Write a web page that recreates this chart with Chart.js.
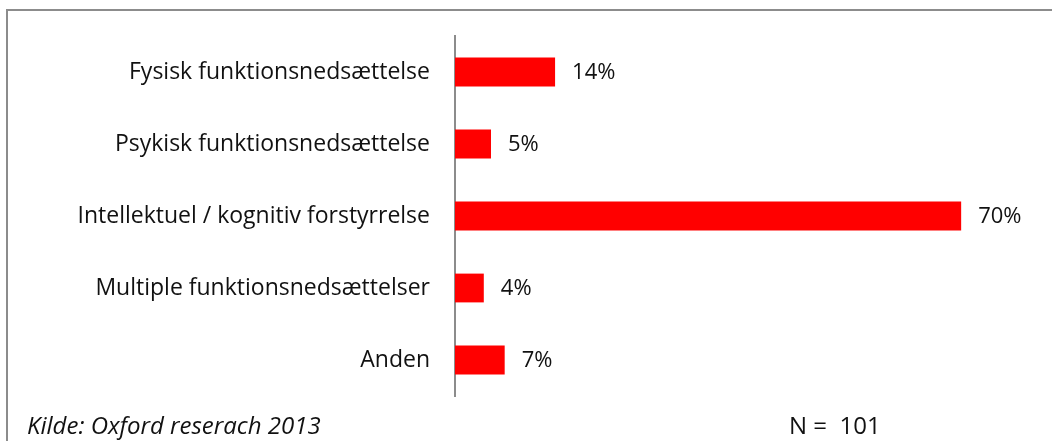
<!DOCTYPE html>
<html>
<head>
<meta charset="utf-8">
<script src="https://cdn.jsdelivr.net/npm/chart.js"></script>
<style>
	body { margin: 0; background: white; font-family: "Open Sans", sans-serif; }
	#wrap { position: relative; width: 1052px; height: 441px; overflow: hidden; }
	#frame {
		position: absolute; left: 6px; top: 9px; width: 1100px; height: 500px;
		border: 2px solid #8c8c8c; box-sizing: border-box;
	}
	#chartBox { position: absolute; left: 0; top: 0; width: 1052px; height: 441px; }
	.foot { position: absolute; font-size: 24px; color: #111; top: 410px; line-height: 30px; }
	#source { left: 27px; font-style: italic; }
	#count { left: 789px; white-space: pre; }
</style>
</head>
<body>
<div id="wrap">
	<div id="frame"></div>
	<div id="chartBox"><canvas id="chart"></canvas></div>
	<div class="foot" id="source">Kilde: Oxford reserach 2013</div>
	<div class="foot" id="count">N =  101</div>
</div>
<script>
const categories = [
	"Fysisk funktionsnedsættelse",
	"Psykisk funktionsnedsættelse",
	"Intellektuel / kognitiv forstyrrelse",
	"Multiple funktionsnedsættelser",
	"Anden"
];
const shares = [13.9, 5.0, 70.3, 4.0, 6.9];

// percent labels right of each bar
const valueLabels = {
	id: 'valueLabels',
	afterDatasetsDraw(chart) {
		const ctx = chart.ctx;
		const meta = chart.getDatasetMeta(0);
		ctx.save();
		ctx.font = '22px "Open Sans"';
		ctx.fillStyle = '#111';
		ctx.textAlign = 'left';
		ctx.textBaseline = 'middle';
		meta.data.forEach((bar, i) => {
			ctx.fillText(Math.round(shares[i]) + '%', bar.x + 17, bar.y + 1);
		});
		ctx.restore();
	}
};

new Chart(document.getElementById('chart'), {
	type: 'bar',
	data: {
		labels: categories,
		datasets: [{
			data: shares,
			backgroundColor: '#ff0000',
			barPercentage: 0.4,
			categoryPercentage: 1.0
		}]
	},
	options: {
		indexAxis: 'y',
		responsive: true,
		maintainAspectRatio: false,
		animation: false,
		layout: { padding: { left: 0, right: 21, top: 36, bottom: 45 } },
		plugins: { legend: { display: false }, tooltip: { enabled: false } },
		scales: {
			x: { display: false, min: 0, max: 80 },
			y: {
				afterFit(scale) { scale.width = 455; },
				grid: { display: false },
				border: { display: true, color: '#8c8c8c', width: 2 },
				ticks: { color: '#111', font: { family: 'Open Sans', size: 23 }, padding: 17 }
			}
		}
	},
	plugins: [valueLabels]
});
</script>
</body>
</html>
